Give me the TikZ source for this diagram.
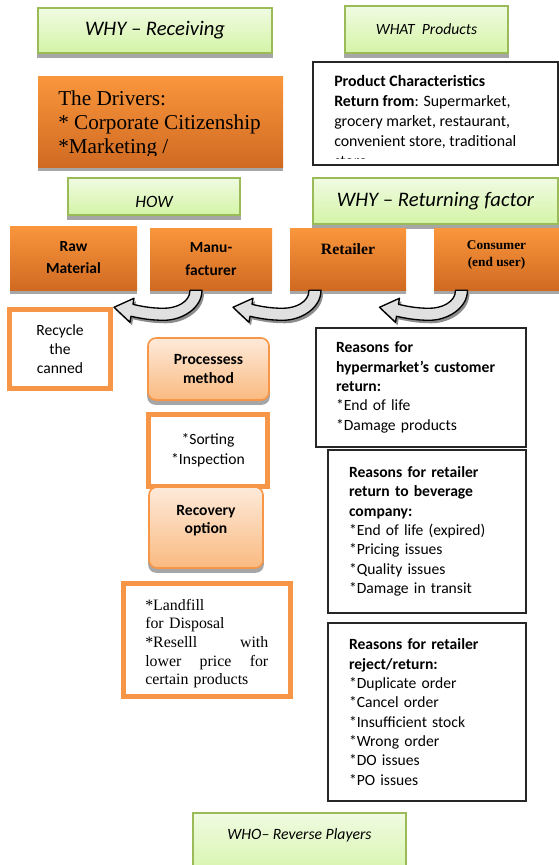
\documentclass[tikz,border=0pt]{standalone}
\usepackage{fontspec}
\setmainfont{Carlito}
\newfontfamily\timesfont{Liberation Serif}
\usetikzlibrary{calc,backgrounds}

\definecolor{greenline}{RGB}{155,187,89}
\definecolor{greentop}{RGB}{240,251,226}
\definecolor{greenbot}{RGB}{212,244,166}
\definecolor{orangetop}{RGB}{250,150,60}
\definecolor{orangebot}{RGB}{208,106,34}
\definecolor{peachtop}{RGB}{253,234,218}
\definecolor{peachbot}{RGB}{250,186,128}
\definecolor{orangeline}{RGB}{247,150,70}
\definecolor{shadowgray}{RGB}{166,166,166}
\definecolor{arrowfill}{RGB}{224,224,224}

\newcommand{\pxu}{0.75pt}

\tikzset{
  greenbox/.style={draw=greenline, line width=1.5pt, top color=greentop, bottom color=greenbot, inner sep=0pt},
  orangebox/.style={top color=orangetop, bottom color=orangebot, inner sep=0pt, align=center},
  peachbox/.style={draw=orangeline, line width=1.2pt, rounded corners=6pt, top color=peachtop, bottom color=peachbot, inner sep=0pt, align=center},
  framebox/.style={draw=orangeline, line width=3.75pt, fill=white, inner sep=0pt, align=center},
  listbox/.style={draw=black!85, line width=0.9pt, fill=white, inner sep=0pt, align=left},
  boxshadow/.style={fill=shadowgray},
  headtext/.style={font=\fontsize{15.5}{18}\selectfont\itshape},
  bodytext/.style={font=\fontsize{11.7}{14.5}\selectfont},
  boldtext/.style={font=\fontsize{11.7}{14}\selectfont\bfseries},
  returnarrow/.pic={
    \begin{scope}[shift={(2,3)}]
      \fill[black!45] (6,0) .. controls (6,18) and (-14,30) .. (-32,30) .. controls (-46,30) and (-56,28) .. (-65,26) -- (-66,32) -- (-82,17) -- (-62,8) -- (-63,14) .. controls (-55,16) and (-45,18) .. (-32,18) .. controls (-20,18) and (-6,12) .. (-6,0) -- cycle;
    \end{scope}
    \draw[fill=arrowfill, line width=1pt, line join=round] (6,0) .. controls (6,18) and (-14,30) .. (-32,30) .. controls (-46,30) and (-56,28) .. (-65,26) -- (-66,32) -- (-82,17) -- (-62,8) -- (-63,14) .. controls (-55,16) and (-45,18) .. (-32,18) .. controls (-20,18) and (-6,12) .. (-6,0) -- cycle;
  }
}

\begin{document}
\begin{tikzpicture}[x=0.75pt,y=0.75pt,yscale=-1,xscale=1]
\useasboundingbox (0,0) rectangle (559,865);
\clip (0,0) rectangle (559,865);

% Green headings
\node[greenbox, headtext, minimum width=234*\pxu, minimum height=45*\pxu] (whyrec) at (155,30.5) {WHY – Receiving};
\node[greenbox, font=\fontsize{11.7}{14}\selectfont\itshape, minimum width=163*\pxu, minimum height=47*\pxu] (what) at (426.5,29.5) {WHAT\ \ Products};

% The drivers
\node[orangebox, minimum width=245*\pxu, minimum height=91*\pxu] (drivers) at (160.5,121.5) {};
\begin{scope}
\clip (drivers.north west) rectangle ($(drivers.south east)+(0,-12)$);
\node[anchor=north west, inner sep=0pt, align=left, font=\timesfont\fontsize{15.9}{18}\selectfont] (driverstext) at (58,91) {The Drivers:\\{}* Corporate Citizenship\\{}*Marketing /};
\end{scope}

% Product characteristics
\node[listbox, minimum width=245*\pxu, minimum height=103*\pxu] (prodchar) at (435.5,113.5) {};
\begin{scope}
\clip (prodchar.north west) rectangle ($(prodchar.south east)+(0,-7)$);
\node[anchor=north west, inner sep=0pt, align=left, font=\fontsize{11.9}{15}\selectfont] (prodtext) at (334,75) {\textbf{Product Characteristics}\\\textbf{Return from}: Supermarket,\\grocery market, restaurant,\\convenient store, traditional\\store};
\end{scope}

% HOW
\node[greenbox, minimum width=172*\pxu, minimum height=37*\pxu] (how) at (154,196.5) {};
\begin{scope}
\clip (how.north west) rectangle ($(how.south east)+(0,-10)$);
\node[anchor=base, inner sep=0pt, font=\fontsize{13}{15}\selectfont\itshape] (howtext) at (154,207) {HOW};
\end{scope}

\node[greenbox, headtext, minimum width=245*\pxu, minimum height=46*\pxu] (whyret) at (435.5,201) {WHY – Returning factor};

% Players
\node[orangebox, font=\fontsize{11.6}{16.5}\selectfont\bfseries, minimum width=127*\pxu, minimum height=64*\pxu] (raw) at (73.5,258) {Raw\\Material};
\node[orangebox, font=\fontsize{11.6}{17}\selectfont\bfseries, minimum width=122*\pxu, minimum height=62*\pxu] (mfr) at (211,259) {Manu-\\facturer};
\node[orangebox, minimum width=116*\pxu, minimum height=62*\pxu] (ret) at (348,259) {};
\node[font=\timesfont\bfseries\fontsize{11.8}{14}\selectfont] (rettext) at (348,249) {Retailer};
\node[orangebox, minimum width=125*\pxu, minimum height=62*\pxu] (cons) at (496.5,259) {};
\node[align=center, font=\timesfont\bfseries\fontsize{10}{12.75}\selectfont] (constext) at (496.5,255) {Consumer\\(end user)};

% Left column
\node[framebox, font=\fontsize{11.7}{14.25}\selectfont, minimum width=101*\pxu, minimum height=79*\pxu] (recycle) at (60,349) {Recycle\\the\\canned};
\node[peachbox, boldtext, minimum width=121*\pxu, minimum height=62*\pxu] (process) at (208.5,369) {Processess\\method};
\node[framebox, font=\fontsize{11.7}{15}\selectfont, minimum width=119*\pxu, minimum height=72*\pxu] (sorting) at (208,450.5) {*Sorting\\{}*Inspection};
\node[peachbox, minimum width=114*\pxu, minimum height=81*\pxu] (recovery) at (206,527.5) {};
\node[align=center, boldtext] (recoverytext) at (206,520.5) {Recovery\\option};
\node[framebox, minimum width=167*\pxu, minimum height=113*\pxu] (landfill) at (207,640) {};
\node[anchor=north west, inner sep=0pt, text width=123*\pxu, align=left, font=\timesfont\fontsize{11.9}{13.9}\selectfont] (landfilltext) at (145,599) {*Landfill\\for Disposal\\{}*Reselll\hfill with\\lower\hfill price\hfill for\\certain products};

% Reasons
\node[listbox, bodytext, text width=170*\pxu, minimum width=210*\pxu, minimum height=119*\pxu] (hyper) at (421,387.5) {\textbf{Reasons for}\\\textbf{hypermarket’s customer}\\\textbf{return:}\\{}*End of life\\{}*Damage products};
\node[listbox, bodytext, text width=156*\pxu, minimum width=198*\pxu, minimum height=163*\pxu] (retbev) at (427,531.5) {\textbf{Reasons for retailer}\\\textbf{return to beverage}\\\textbf{company:}\\{}*End of life (expired)\\{}*Pricing issues\\{}*Quality issues\\{}*Damage in transit};
\node[listbox, bodytext, text width=156*\pxu, minimum width=198*\pxu, minimum height=178*\pxu] (reject) at (427,712) {\textbf{Reasons for retailer}\\\textbf{reject/return:}\\{}*Duplicate order\\{}*Cancel order\\{}*Insufficient stock\\{}*Wrong order\\{}*DO issues\\{}*PO issues};

% WHO
\node[greenbox, minimum width=213*\pxu, minimum height=67*\pxu] (who) at (299.5,846.5) {};
\node[font=\fontsize{11.8}{14}\selectfont\itshape] (whotext) at (299.5,835) {WHO– Reverse Players};

% Shadows
\begin{scope}[on background layer]
\foreach \b in {whyrec,what,drivers,how,whyret,raw,mfr,ret,cons,who}
  \fill[boxshadow] ($(\b.north west)+(0,4)$) rectangle ($(\b.south east)+(0,4)$);
\foreach \b in {process,recovery}
  \fill[boxshadow, rounded corners=6pt] ($(\b.north west)+(0,4)$) rectangle ($(\b.south east)+(0,4)$);
\end{scope}

% Return arrows
\pic[transform shape] at ($(mfr.south)+(-15,0)$) {returnarrow};
\pic[transform shape] at ($(ret.south)+(-33,0)$) {returnarrow};
\pic[transform shape] at ($(cons.south)+(-35,0)$) {returnarrow};

\end{tikzpicture}
\end{document}
